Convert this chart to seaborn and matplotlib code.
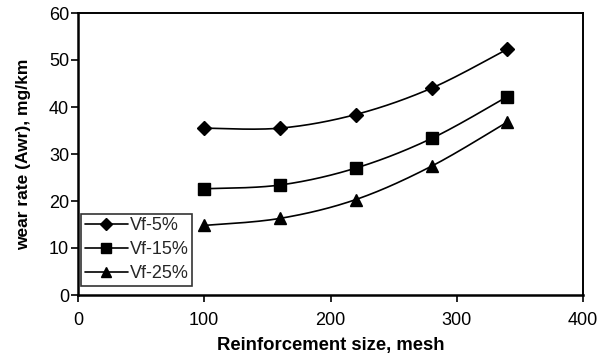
import numpy as np
import pandas as pd
import matplotlib
matplotlib.use("Agg")
import matplotlib.pyplot as plt
from matplotlib.lines import Line2D
import seaborn as sns

# Wear rate (mg/km) against reinforcement size (mesh) for three volume fractions
mesh = [100, 160, 220, 280, 340]
vf5 = [35.5, 35.5, 38.4, 44.0, 52.3]
vf15 = [22.6, 23.4, 27.0, 33.3, 42.2]
vf25 = [14.8, 16.3, 20.3, 27.4, 36.8]
series_names = ["Vf-5%", "Vf-15%", "Vf-25%"]
x_ticks = [0, 100, 200, 300, 400]
y_ticks = [0, 10, 20, 30, 40, 50, 60]

sns.set_theme(style="white")
plt.rcParams["font.family"] = ["Liberation Sans", "DejaVu Sans"]


def smooth(x, y, n=40):
    """Smoothed line through the points using Catmull-Rom Bezier segments."""
    P = np.column_stack([x, y]).astype(float)
    E = np.vstack([P[0], P, P[-1]])
    t = np.linspace(0, 1, n)[:, None]
    parts = []
    for i in range(len(P) - 1):
        p0, p3 = E[i + 1], E[i + 2]
        c1 = p0 + (E[i + 2] - E[i]) / 6
        c2 = p3 - (E[i + 3] - E[i + 1]) / 6
        seg = ((1 - t) ** 3) * p0 + 3 * ((1 - t) ** 2) * t * c1 \
            + 3 * (1 - t) * (t ** 2) * c2 + (t ** 3) * p3
        parts.append(seg if i == 0 else seg[1:])
    return np.vstack(parts)


curve_frames, point_frames = [], []
for name, vals in zip(series_names, [vf5, vf15, vf25]):
    c = smooth(mesh, vals)
    curve_frames.append(pd.DataFrame({"mesh": c[:, 0], "wear": c[:, 1], "series": name}))
    point_frames.append(pd.DataFrame({"mesh": mesh, "wear": vals, "series": name}))
curves = pd.concat(curve_frames, ignore_index=True)
points = pd.concat(point_frames, ignore_index=True)

markers = {"Vf-5%": "D", "Vf-15%": "s", "Vf-25%": "^"}
msizes = {"Vf-5%": 7, "Vf-15%": 8.5, "Vf-25%": 8}

fig = plt.figure(figsize=(6.05, 3.57), dpi=100)
ax = fig.add_axes([78 / 605, (357 - 295) / 357, 505 / 605, 282 / 357])

for name in series_names:
    sub_c = curves[curves["series"] == name]
    sns.lineplot(data=sub_c, x="mesh", y="wear", sort=False, estimator=None,
                 color="black", linewidth=1.2, ax=ax, legend=False)
    sub_p = points[points["series"] == name]
    ax.plot(sub_p["mesh"], sub_p["wear"], linestyle="none", marker=markers[name],
            markersize=msizes[name], color="black", markeredgecolor="black")

ax.set_xlim(0, 400)
ax.set_ylim(0, 60)
ax.set_xticks(x_ticks)
ax.set_yticks(y_ticks)
ax.tick_params(axis="both", which="both", direction="out", length=5, width=1.2,
               color="black", labelsize=13, labelcolor="black",
               bottom=True, left=True, top=False, right=False)
ax.tick_params(axis="x", pad=7)
ax.tick_params(axis="y", pad=1.5)
ax.set_xlabel("Reinforcement size, mesh", fontsize=13.3, fontweight="bold",
              color="black", labelpad=6)
ax.set_ylabel("wear rate (Awr), mg/km", fontsize=12.5, fontweight="bold",
              color="black", labelpad=13)
for side in ["left", "bottom"]:
    ax.spines[side].set_linewidth(1.8)
    ax.spines[side].set_color("black")
for side in ["top", "right"]:
    ax.spines[side].set_linewidth(1.4)
    ax.spines[side].set_color("black")
ax.grid(False)

handles = [Line2D([0], [0], color="black", linewidth=1.2, marker=markers[n],
                  markersize=msizes[n] * 0.9) for n in series_names]
leg = ax.legend(handles, series_names, loc="lower left", bbox_to_anchor=(0.006, 0.033),
                frameon=True, fancybox=False, fontsize=13, handlelength=2.4,
                handletextpad=0.1, borderpad=0.2, labelspacing=0.38, borderaxespad=0)
leg.get_frame().set_edgecolor("black")
leg.get_frame().set_linewidth(1.2)

fig.savefig("out.png", dpi=100)
